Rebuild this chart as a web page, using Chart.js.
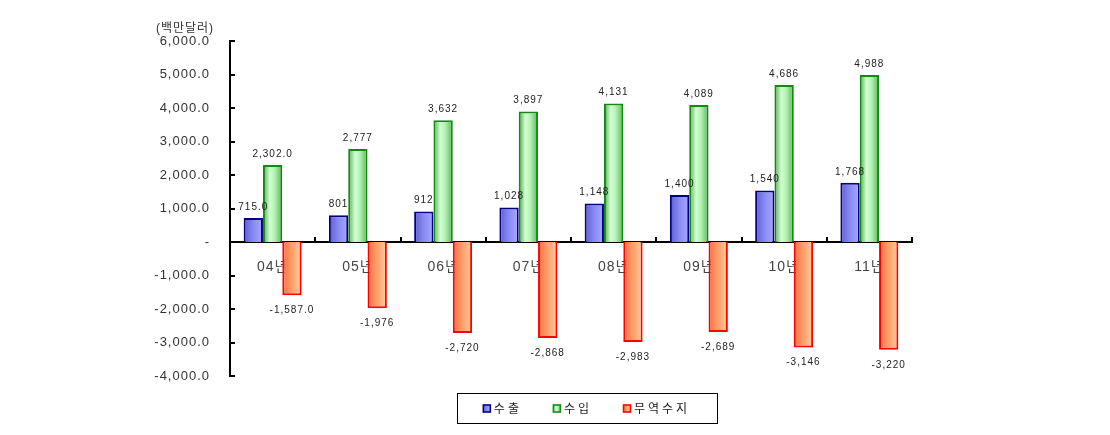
<!DOCTYPE html>
<html>
<head>
<meta charset="utf-8">
<script src="https://cdn.jsdelivr.net/npm/chart.js@4/dist/chart.umd.min.js"></script>
<style>
  html, body { margin: 0; padding: 0; background: #fff; }
  #wrap { width: 1110px; height: 435px; position: relative; }
</style>
</head>
<body>
<div id="wrap"><canvas id="c" width="1110" height="435"></canvas></div>
<script>
const categories = ['04년', '05년', '06년', '07년', '08년', '09년', '10년', '11년'];
const exportValues = [715, 801, 912, 1028, 1148, 1400, 1540, 1768];
const importValues = [2302, 2777, 3632, 3897, 4131, 4089, 4686, 4988];
const balanceValues = [-1587, -1976, -2720, -2868, -2983, -2689, -3146, -3220];
const labelDecimals = [1, 0, 0, 0, 0, 0, 0, 0];
const seriesNames = ['수출', '수입', '무역수지'];
const unitLabel = '(백만달러)';
const yMin = -4000, yMax = 6000, yStep = 1000;

const FONT = "'Liberation Sans', 'Noto Sans CJK KR', sans-serif";
const CAT_PCT = 0.68;

const styles = [
  { border: '#000080', stops: [[0, '#5c5cd0'], [0.5, '#8a8af4'], [1, '#a8a8ff']] },
  { border: '#128a12', stops: [[0, '#4fa84f'], [0.35, '#d2ffd2'], [0.6, '#b4f2b4'], [1, '#5ab55a']] },
  { border: '#ff0000', stops: [[0, '#ff6e3c'], [0.5, '#ffa06c'], [1, '#ffcc9c']] }
];

function fmt(v, d) {
  return v.toLocaleString('en-US', { minimumFractionDigits: d, maximumFractionDigits: d });
}

function gradientFill(dsIndex) {
  return (ctx) => {
    const chart = ctx.chart;
    const st = styles[dsIndex];
    const xs = chart.scales.x;
    if (!xs || ctx.dataIndex === undefined) return st.stops[1][1];
    const catW = (xs.right - xs.left) / categories.length;
    const barW = catW * CAT_PCT / 3;
    const center = xs.getPixelForValue(ctx.dataIndex);
    const left = center - 1.5 * barW + dsIndex * barW;
    if (!isFinite(left)) return st.stops[1][1];
    const g = chart.ctx.createLinearGradient(left, 0, left + barW, 0);
    st.stops.forEach(s => g.addColorStop(s[0], s[1]));
    return g;
  };
}

const spacingPlugin = {
  id: 'spacing',
  beforeLayout(chart) { chart.ctx.letterSpacing = '1px'; },
  beforeDraw(chart) { chart.ctx.letterSpacing = '1px'; }
};

const decorPlugin = {
  id: 'decor',
  afterDraw(chart) {
    const ctx = chart.ctx;
    const ca = chart.chartArea;
    const xs = chart.scales.x, ys = chart.scales.y;
    const y0 = ys.getPixelForValue(0);
    ctx.save();
    ctx.strokeStyle = '#000';
    ctx.lineWidth = 2;
    ctx.beginPath();
    for (let v = yMin; v <= yMax; v += yStep) {
      const py = Math.round(ys.getPixelForValue(v));
      ctx.moveTo(ca.left, py);
      ctx.lineTo(ca.left + 5, py);
    }
    const catW = (xs.right - xs.left) / categories.length;
    for (let i = 1; i <= categories.length; i++) {
      const px = Math.round(xs.left + i * catW);
      ctx.moveTo(px, y0);
      ctx.lineTo(px, y0 - 5);
    }
    ctx.stroke();

    ctx.letterSpacing = '1px';
    ctx.font = '10px ' + FONT;
    ctx.fillStyle = '#222';
    ctx.textAlign = 'center';
    chart.data.datasets.forEach((ds, di) => {
      const meta = chart.getDatasetMeta(di);
      meta.data.forEach((el, i) => {
        const v = ds.data[i];
        const txt = fmt(v, labelDecimals[i]);
        if (v >= 0) {
          ctx.textBaseline = 'bottom';
          ctx.fillText(txt, el.x, el.y - 6);
        } else {
          ctx.textBaseline = 'top';
          ctx.fillText(txt, el.x, el.y + 10);
        }
      });
    });

    ctx.font = '12px ' + FONT;
    ctx.fillStyle = '#333';
    ctx.textAlign = 'center';
    ctx.textBaseline = 'middle';
    ctx.fillText(unitLabel, ca.left - 45, ca.top - 12);

    ctx.font = '12px ' + FONT;
    ctx.letterSpacing = '3px';
    const boxL = 457.5, boxT = ca.bottom + 17.5, boxW = 260, boxH = 30;
    ctx.lineWidth = 1;
    ctx.strokeStyle = '#000';
    ctx.strokeRect(boxL, boxT, boxW, boxH);
    const gap = 31, sw = 8, sg = 3;
    const widths = seriesNames.map(n => ctx.measureText(n).width);
    const total = widths.reduce((a, w) => a + sw + sg + w, 0) + gap * (seriesNames.length - 1);
    let x = boxL + boxW / 2 - total / 2 - 1;
    const cy = boxT + boxH / 2;
    seriesNames.forEach((n, i) => {
      const st = styles[i];
      const g = ctx.createLinearGradient(x, 0, x + sw, 0);
      st.stops.forEach(s => g.addColorStop(s[0], s[1]));
      ctx.fillStyle = g;
      ctx.fillRect(x, cy - sw / 2, sw, sw);
      ctx.strokeStyle = st.border;
      ctx.lineWidth = 1.5;
      ctx.strokeRect(x + 0.5, cy - sw / 2 + 0.5, sw - 1, sw - 1);
      ctx.fillStyle = '#222';
      ctx.textAlign = 'left';
      ctx.textBaseline = 'middle';
      ctx.fillText(n, x + sw + sg, cy + 1);
      x += sw + sg + widths[i] + gap;
    });
    ctx.restore();
  }
};

const valueSets = [exportValues, importValues, balanceValues];

new Chart(document.getElementById('c'), {
  type: 'bar',
  data: {
    labels: categories,
    datasets: valueSets.map((vals, i) => ({
      label: seriesNames[i],
      data: vals,
      backgroundColor: gradientFill(i),
      borderColor: styles[i].border,
      borderWidth: 2,
      categoryPercentage: CAT_PCT,
      barPercentage: 1.0
    }))
  },
  options: {
    responsive: false,
    animation: false,
    devicePixelRatio: 1,
    layout: { padding: { left: 0, right: 198, top: 41, bottom: 59 } },
    plugins: {
      legend: { display: false },
      tooltip: { enabled: false }
    },
    scales: {
      x: {
        position: { y: 0 },
        offset: true,
        grid: { display: false, drawTicks: false },
        border: { display: true, color: '#000', width: 2 },
        ticks: { color: '#444', font: { family: FONT, size: 14 }, padding: 17, maxRotation: 0 }
      },
      y: {
        min: yMin,
        max: yMax,
        afterFit(scale) { scale.width = 230; },
        grid: { display: false, drawTicks: false },
        border: { display: true, color: '#000', width: 2 },
        ticks: {
          stepSize: yStep,
          padding: 20,
          color: '#333',
          font: { family: FONT, size: 13 },
          callback: (v) => v === 0 ? '-' : fmt(v, 1)
        }
      }
    }
  },
  plugins: [spacingPlugin, decorPlugin]
});
</script>
</body>
</html>
